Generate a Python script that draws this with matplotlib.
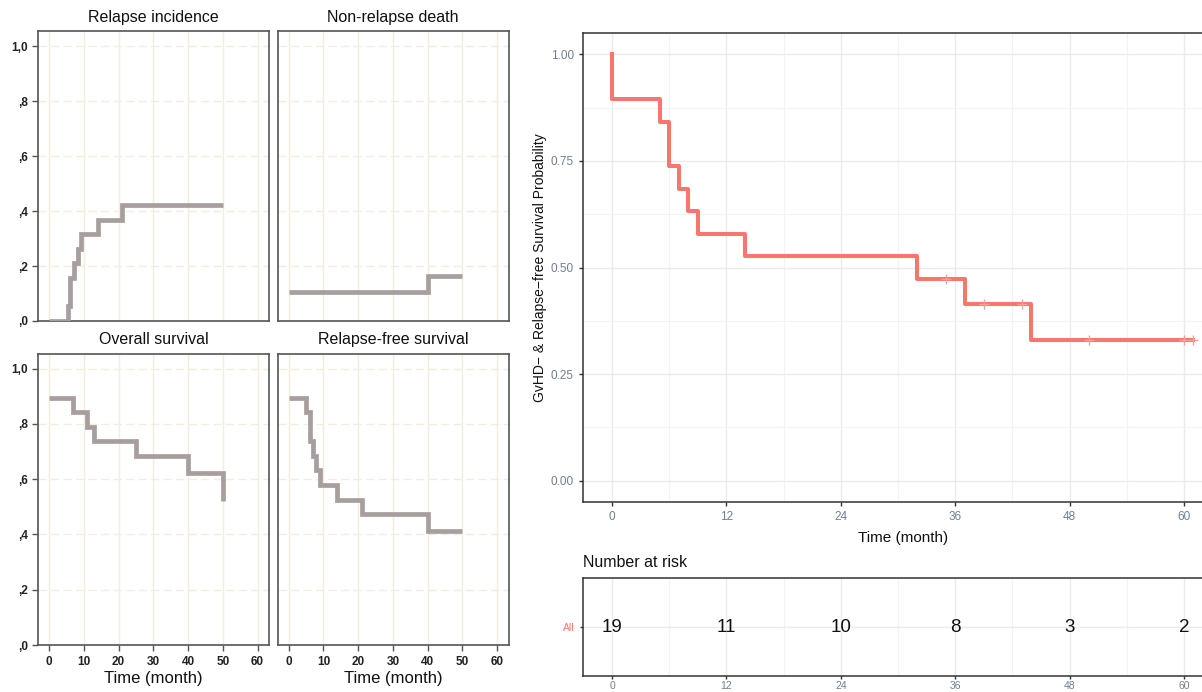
import matplotlib
matplotlib.use("Agg")
import matplotlib.pyplot as plt
import numpy as np

plt.rcParams['font.family'] = ['Liberation Sans', 'DejaVu Sans']

# ---------------- data: small panels ----------------
ri_t = [0, 5.5, 6.1, 7.1, 8.2, 9.1, 14.2, 21.1, 50]
ri_v = [0.0, 0.053, 0.158, 0.211, 0.263, 0.316, 0.368, 0.421, 0.421]

nrd_t = [0, 40, 50]
nrd_v = [0.105, 0.163, 0.163]

os_t = [0, 7, 11, 13, 25, 40, 50]
os_v = [0.895, 0.842, 0.790, 0.737, 0.684, 0.623, 0.520]

rfs_t = [0, 5, 6, 7, 8, 9, 14, 21, 40, 50]
rfs_v = [0.895, 0.842, 0.737, 0.684, 0.632, 0.579, 0.526, 0.474, 0.414, 0.414]

panel_titles = ["Relapse incidence", "Non-relapse death", "Overall survival", "Relapse-free survival"]
small_yticks = [0.0, 0.2, 0.4, 0.6, 0.8, 1.0]
small_yticklabels = [",0", ",2", ",4", ",6", ",8", "1,0"]
small_xticks = [0, 10, 20, 30, 40, 50, 60]

# ---------------- data: GRFS KM ----------------
km_t = [0, 0, 5, 6, 7, 8, 9, 14, 32, 37, 44, 61]
km_s = [1.0, 0.895, 0.842, 0.737, 0.684, 0.632, 0.579, 0.526, 0.474, 0.414, 0.331, 0.331]
cens_t = [35, 39, 43, 50, 60, 61]
cens_s = [0.474, 0.414, 0.414, 0.331, 0.331, 0.331]

risk_t = [0, 12, 24, 36, 48, 60]
risk_n = [19, 11, 10, 8, 3, 2]

# ---------------- figure ----------------
W, H = 1202, 692
fig = plt.figure(figsize=(W / 100, H / 100), dpi=100)

def fx(px):
    return px / W

def fy(py):
    return 1 - py / H

line_col = '#a89e9e'
grid_col = '#f3eedb'
spine_col = '#555555'

panels = [
    (38, 31.5, 269, 321, ri_t, ri_v, True),
    (277.6, 31.5, 508.5, 321, nrd_t, nrd_v, False),
    (38, 354, 269, 645, os_t, os_v, True),
    (277.6, 354, 508.5, 645, rfs_t, rfs_v, False),
]

for i, (x0, y0, x1, y1, t, v, showy) in enumerate(panels):
    ax = fig.add_axes([fx(x0), fy(y1), fx(x1 - x0), (y1 - y0) / H])
    ax.set_xlim(-3.2, 63.3)
    ax.set_ylim(0, 1.053)
    for xv in small_xticks:
        ax.axvline(xv, color=grid_col, lw=1.0, zorder=0)
    for yv in small_yticks[1:]:
        ax.axhline(yv, color=grid_col, lw=1.0, ls=(0, (6, 3)), zorder=0)
    ax.step(t, v, where='post', color=line_col, lw=3.4, solid_capstyle='butt',
            solid_joinstyle='miter', zorder=3)
    for s in ax.spines.values():
        s.set_color(spine_col)
        s.set_linewidth(1.2)
    ax.set_title(panel_titles[i], fontsize=11.5, pad=7, color='#111111')
    ax.set_yticks(small_yticks)
    if showy:
        ax.set_yticklabels(small_yticklabels, fontsize=8.5, fontweight='bold', color='#222222')
        ax.tick_params(axis='y', direction='out', length=4, width=1, color=spine_col, pad=3)
    else:
        ax.tick_params(axis='y', length=0, labelleft=False)
    ax.set_xticks(small_xticks)
    if i >= 2:
        ax.set_xticklabels([str(x) for x in small_xticks], fontsize=8.5, fontweight='bold', color='#222222')
        ax.tick_params(axis='x', direction='out', length=4, width=1, color=spine_col, pad=4)
        ax.set_xlabel("Time (month)", fontsize=12, labelpad=2, color='#111111')
    else:
        ax.tick_params(axis='x', length=0, labelbottom=False)

# ---------------- right KM plot ----------------
km_col = '#F8766D'
tick_col = '#6f7f90'
xl = (-3.05, 64.05)
ax_w = (64.05 + 3.05) * 9.53
axk = fig.add_axes([fx(583), fy(502), fx(ax_w), (502 - 33) / H])
axk.set_xlim(*xl)
axk.set_ylim(-0.05, 1.05)
axk.set_xticks([0, 12, 24, 36, 48, 60])
axk.set_xticks([6, 18, 30, 42, 54], minor=True)
axk.set_yticks([0, 0.25, 0.5, 0.75, 1.0])
axk.set_yticks([0.125, 0.375, 0.625, 0.875], minor=True)
axk.set_yticklabels(["0.00", "0.25", "0.50", "0.75", "1.00"])
axk.grid(which='major', color='#ebebeb', lw=1.0)
axk.grid(which='minor', color='#f3f3f3', lw=0.8)
axk.set_axisbelow(True)
axk.step(km_t, km_s, where='post', color=km_col, lw=2.9, zorder=3)
axk.plot(cens_t, cens_s, ls='none', marker='+', ms=7, mew=1.0, color='#f9a09a', zorder=4)
for s in axk.spines.values():
    s.set_color('#333333')
    s.set_linewidth(1.1)
axk.tick_params(which='major', direction='out', length=3, width=1, color='#333333',
                labelsize=8.5, labelcolor=tick_col)
axk.tick_params(which='minor', length=0)
axk.set_xlabel("Time (month)", fontsize=11, labelpad=6, color='#111111')
axk.set_ylabel("GvHD\u2212 & Relapse\u2212free Survival Probability", fontsize=10, labelpad=3, color='#111111')

# ---------------- risk table ----------------
axr = fig.add_axes([fx(583), fy(676), fx(ax_w), (676 - 578) / H])
axr.set_xlim(*xl)
axr.set_ylim(0, 1)
axr.set_xticks([0, 12, 24, 36, 48, 60])
axr.set_xticks([6, 18, 30, 42, 54], minor=True)
axr.set_yticks([0.5])
axr.set_yticklabels(["All"])
axr.grid(which='major', color='#ebebeb', lw=1.0)
axr.grid(which='minor', axis='x', color='#f3f3f3', lw=0.8)
axr.set_axisbelow(True)
for t, n in zip(risk_t, risk_n):
    axr.text(t, 0.5, str(n), ha='center', va='center', fontsize=13.5, color='#111111')
for s in axr.spines.values():
    s.set_color('#333333')
    s.set_linewidth(1.1)
axr.tick_params(which='major', direction='out', length=2.5, width=1, color='#333333',
                labelsize=7.5, labelcolor=tick_col)
axr.tick_params(axis='x', pad=1)
axr.tick_params(axis='y', labelcolor=km_col)
axr.tick_params(which='minor', length=0)
axr.set_title("Number at risk", loc='left', fontsize=11.5, pad=8, color='#111111')

fig.savefig("out.png", dpi=100)
